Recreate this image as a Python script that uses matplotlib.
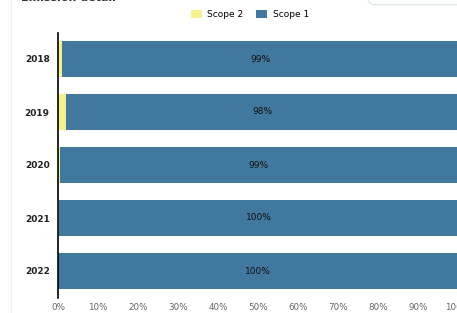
import matplotlib
matplotlib.use("Agg")
import matplotlib.pyplot as plt
import matplotlib.patches as patches
from matplotlib.ticker import FuncFormatter

# data
years = ["2018", "2019", "2020", "2021", "2022"]
scope2 = [1.0, 2.0, 0.4, 0.3, 0.0]
scope1 = [99.0, 98.0, 99.6, 99.7, 100.0]
labels = ["99%", "98%", "99%", "100%", "100%"]
xticks = [0, 10, 20, 30, 40, 50, 60, 70, 80, 90, 100]

blue = "#41789e"
yellow = "#f3f28c"

fig = plt.figure(figsize=(4.57, 3.13), dpi=100)
fig.patch.set_facecolor("white")

# card decorations (cut-off title and box)
fig.text(0.045, 1.005, "Emission detail", fontsize=8, fontweight="bold",
         color="#333333", va="center", ha="left")
fig.add_artist(patches.FancyBboxPatch((365 / 457, 0.985), 0.3, 0.1,
                                      boxstyle="round,pad=0,rounding_size=0.02",
                                      transform=fig.transFigure, fill=False,
                                      edgecolor="#dce8e4", linewidth=0.8))
fig.add_artist(plt.Line2D([11 / 457, 11 / 457], [0.0, 1.0], transform=fig.transFigure,
                          color="#f0f0f0", linewidth=0.8))

ax = fig.add_axes([58 / 457, 1 - 297.5 / 313, 400 / 457, 265 / 313])
pos = list(range(len(years)))
ax.barh(pos, scope2, height=0.68, color=yellow, label="Scope 2")
ax.barh(pos, scope1, left=scope2, height=0.68, color=blue, label="Scope 1")

for i in pos:
    ax.text(scope2[i] + scope1[i] / 2, i, labels[i], ha="center", va="center",
            fontsize=6.5, color="#111111")

ax.set_xlim(0, 100)
ax.set_ylim(len(years) - 0.5, -0.5)
ax.set_yticks(pos)
ax.set_yticklabels(years, fontsize=6.5, fontweight="bold", color="#222222")
ax.set_xticks(xticks)
ax.xaxis.set_major_formatter(FuncFormatter(lambda v, p: "%d%%" % v))
ax.tick_params(axis="x", labelsize=6.3, labelcolor="#666666", length=0, pad=4)
ax.tick_params(axis="y", length=0, pad=6)
for s in ["top", "right", "bottom"]:
    ax.spines[s].set_visible(False)
ax.spines["left"].set_color("black")
ax.spines["left"].set_linewidth(1.2)

ax.legend(loc="lower center", bbox_to_anchor=(0.48, 1.02), ncol=2, frameon=False,
          fontsize=6.5, handlelength=1.2, handleheight=0.9, columnspacing=1.4,
          handletextpad=0.6)

fig.savefig("out.png", dpi=100)
